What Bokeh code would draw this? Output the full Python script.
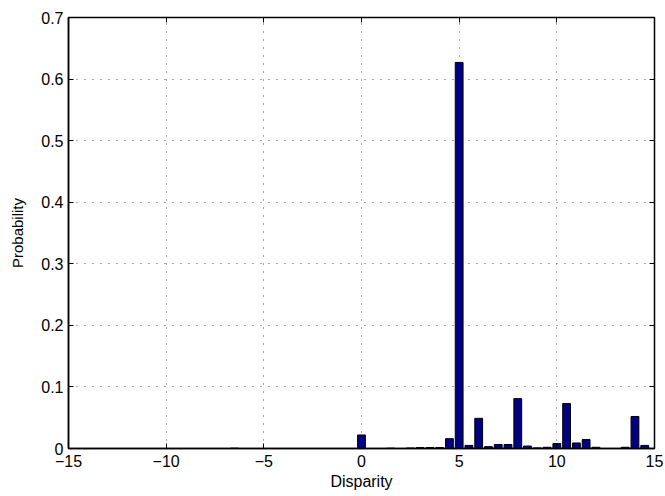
from bokeh.plotting import figure
from bokeh.models import LinearAxis, FixedTicker, Range1d, CustomJSTickFormatter
from bokeh.embed import file_html
from bokeh.resources import INLINE

# Bin centres (disparity) with non-zero probability and their values
disparity = [-6.5, 0.0, 1.5, 2.5, 3.0, 3.5, 4.0, 4.5, 5.0, 5.5, 6.0, 6.5, 7.0, 7.5,
             8.0, 8.5, 9.0, 9.5, 10.0, 10.5, 11.0, 11.5, 12.0, 13.5, 14.0, 14.5]
probability = [0.0005, 0.022, 0.0005, 0.0008, 0.0015, 0.0015, 0.0015, 0.016, 0.627,
               0.005, 0.049, 0.003, 0.0065, 0.0065, 0.081, 0.004, 0.001, 0.002,
               0.008, 0.073, 0.009, 0.0145, 0.002, 0.002, 0.052, 0.005]

x_ticks = [-15, -10, -5, 0, 5, 10, 15]
x_tick_labels = ["\u221215", "\u221210", "\u22125", "0", "5", "10", "15"]
y_ticks = [0, 0.1, 0.2, 0.3, 0.4, 0.5, 0.6, 0.7]
y_tick_labels = ["0", "0.1", "0.2", "0.3", "0.4", "0.5", "0.6", "0.7"]

FONT = "Liberation Sans"

p = figure(width=665, height=496, output_backend="svg", toolbar_location=None,
           x_range=Range1d(-15, 15), y_range=Range1d(0, 0.7),
           min_border_left=68, min_border_right=11, min_border_top=17,
           min_border_bottom=48)
p.background_fill_color = "white"
p.border_fill_color = "white"
p.outline_line_color = "black"
p.outline_line_width = 1.5

p.vbar(x=disparity, top=probability, bottom=0, width=0.4,
       fill_color="#000080", line_color="black", line_width=1)

p.xaxis.ticker = FixedTicker(ticks=x_ticks)
p.yaxis.ticker = FixedTicker(ticks=y_ticks)
p.xaxis.major_label_overrides = dict(zip(x_ticks, x_tick_labels))
p.yaxis.major_label_overrides = dict(zip(y_ticks, y_tick_labels))

for ax in [p.xaxis[0], p.yaxis[0]]:
    ax.major_tick_in = 5
    ax.major_tick_out = 0
    ax.minor_tick_in = 0
    ax.minor_tick_out = 0
    ax.axis_line_color = "black"
    ax.axis_line_width = 1.5
    ax.major_tick_line_color = "black"
    ax.major_label_text_font = FONT
    ax.major_label_text_font_size = "16px"
    ax.major_label_text_color = "black"
    ax.axis_label_text_font = FONT
    ax.axis_label_text_font_style = "normal"
    ax.axis_label_text_color = "black"

p.xaxis.axis_label = "Disparity"
p.xaxis.axis_label_text_font_size = "16px"
p.xaxis.major_label_standoff = 6
p.xaxis.axis_label_standoff = 3
p.yaxis.axis_label = "Probability"
p.yaxis.axis_label_text_font_size = "15px"
p.yaxis.major_label_standoff = 5
p.yaxis.axis_label_standoff = 12

# Mirror ticks on top and right (box on), without labels
blank = CustomJSTickFormatter(code="return '';")
top = LinearAxis(ticker=FixedTicker(ticks=x_ticks), formatter=blank,
                 major_tick_in=5, major_tick_out=0, minor_tick_in=0, minor_tick_out=0,
                 major_label_standoff=0)
right = LinearAxis(ticker=FixedTicker(ticks=y_ticks), formatter=blank,
                   major_tick_in=5, major_tick_out=0, minor_tick_in=0, minor_tick_out=0,
                   major_label_standoff=0)
p.add_layout(top, "above")
p.add_layout(right, "right")

p.xgrid.ticker = FixedTicker(ticks=x_ticks)
p.ygrid.ticker = FixedTicker(ticks=y_ticks)
for g in [p.xgrid[0], p.ygrid[0]]:
    g.grid_line_color = "#555555"
    g.grid_line_dash = "1 7"
    g.grid_line_width = 1

open("out.html", "w").write(file_html(p, INLINE))
